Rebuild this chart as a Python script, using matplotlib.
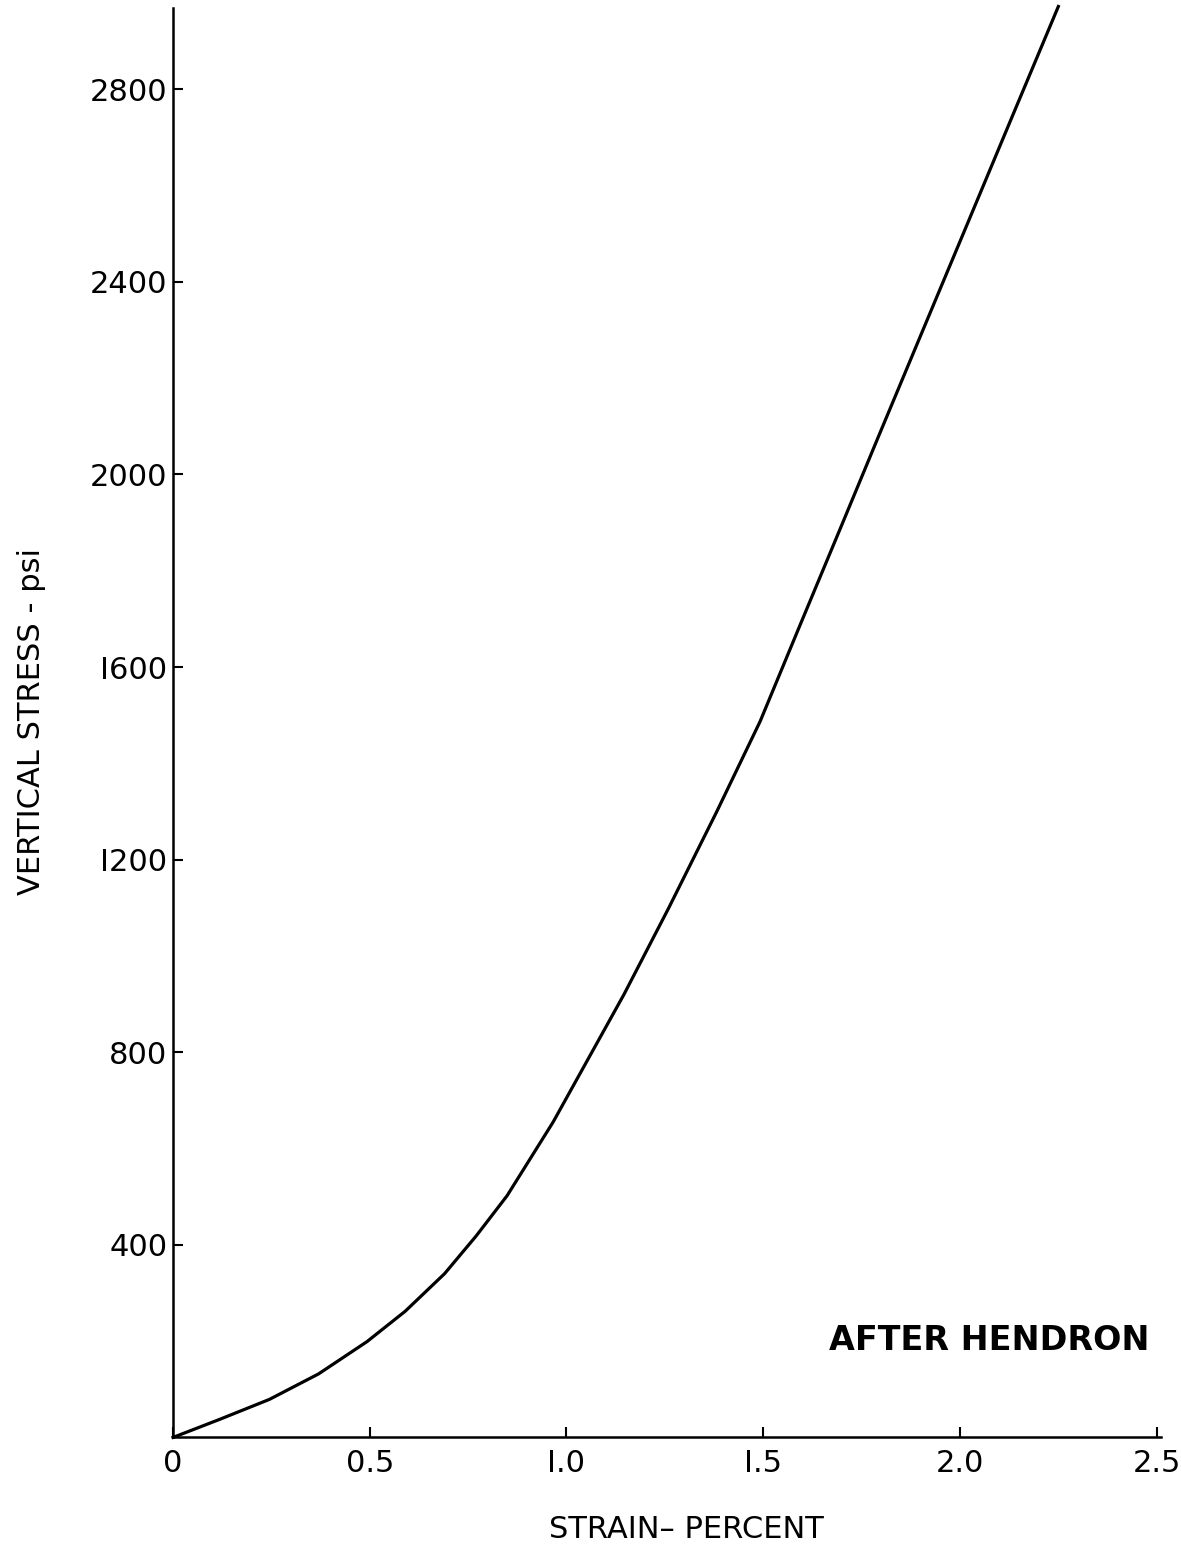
import numpy as np
import matplotlib.pyplot as plt

# stress-strain curve (after Hendron)
strain = [0.0, 0.12, 0.245, 0.37, 0.493, 0.59, 0.69, 0.77, 0.849, 0.966,
          1.146, 1.260, 1.382, 1.492, 1.596, 1.698, 1.797, 1.911, 2.018,
          2.132, 2.250]
stress = [0, 38, 79, 132, 199, 262, 340, 418, 502, 655,
          920, 1100, 1300, 1487, 1692, 1892, 2087, 2310, 2519,
          2742, 2972]

x_ticks = [0, 0.5, 1.0, 1.5, 2.0, 2.5]
x_labels = ["0", "0.5", "I.0", "I.5", "2.0", "2.5"]
y_ticks = [400, 800, 1200, 1600, 2000, 2400, 2800]
y_labels = ["400", "800", "I200", "I600", "2000", "2400", "2800"]

plt.rcParams['font.family'] = ['DejaVu Sans']

fig = plt.figure(figsize=(11.81, 15.56), dpi=100)
ax = fig.add_axes([0.1465, 0.0762, 0.8366, 0.9187])

ax.plot(strain, stress, color="black", linewidth=2.3, clip_on=False,
        solid_joinstyle="round")

ax.set_xlim(0, 2.511)
ax.set_ylim(0, 2969)

ax.spines["top"].set_visible(False)
ax.spines["right"].set_visible(False)
ax.spines["left"].set_linewidth(1.8)
ax.spines["bottom"].set_linewidth(1.8)

ax.set_xticks(x_ticks)
ax.set_xticklabels(x_labels)
ax.set_yticks(y_ticks)
ax.set_yticklabels(y_labels)
ax.tick_params(axis="both", direction="in", length=7, width=1.5, labelsize=22)
ax.tick_params(axis="x", pad=8)
ax.tick_params(axis="y", pad=4)

fig.text(0.027, 0.536, "VERTICAL STRESS - psi", rotation=90, fontsize=22,
         ha="center", va="center")
fig.text(0.581, 0.017, "STRAIN\u2013 PERCENT", fontsize=22, ha="center", va="center")
ax.text(0.988, 0.068, "AFTER HENDRON", transform=ax.transAxes, fontsize=24,
        fontweight="bold", ha="right", va="center")

fig.savefig("out.png", dpi=100)
